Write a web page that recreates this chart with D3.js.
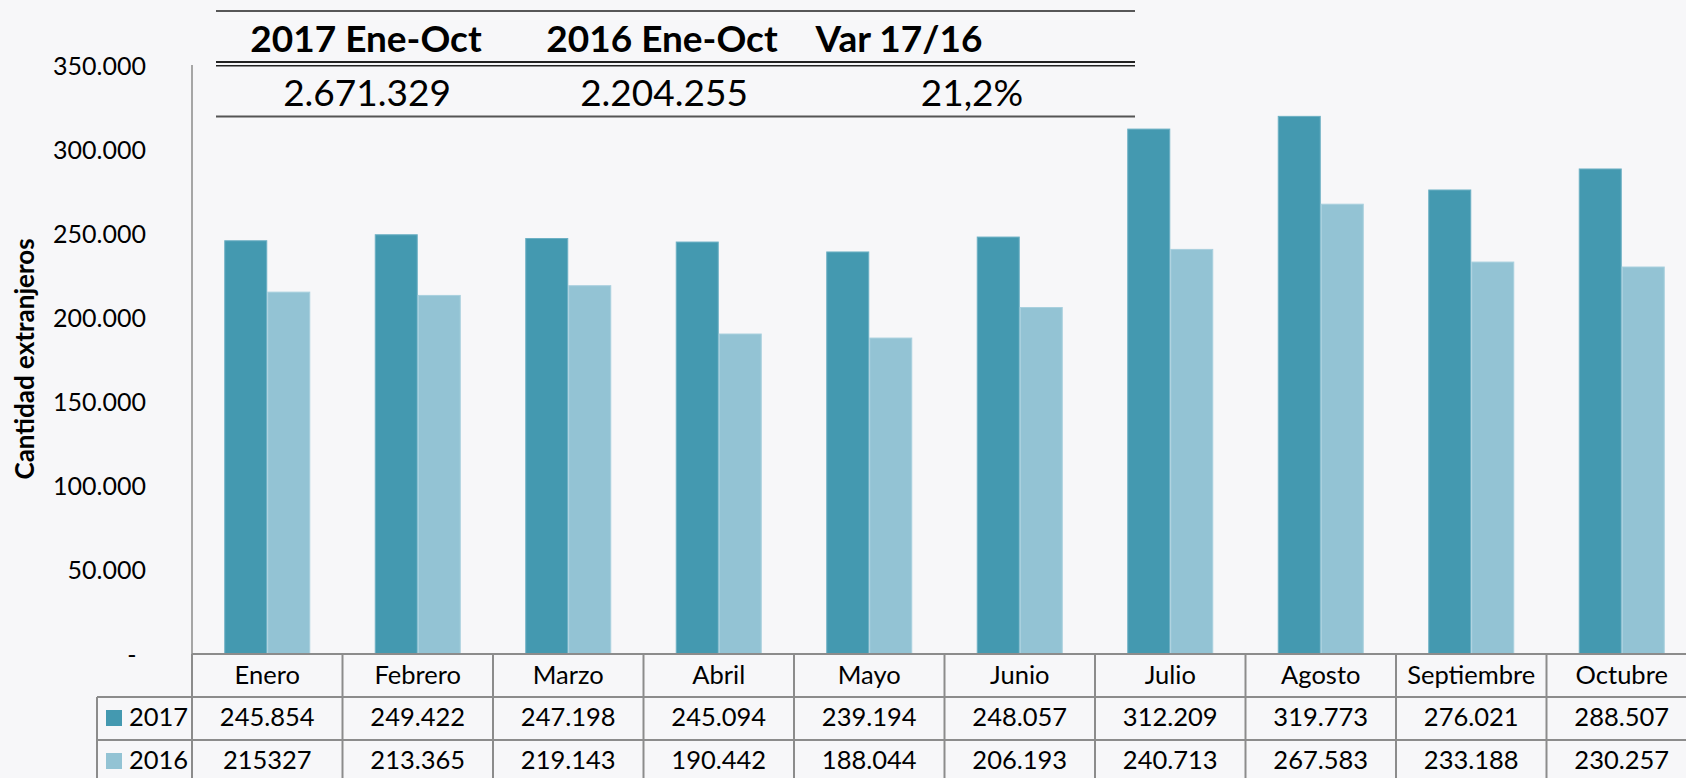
<!DOCTYPE html>
<html>
<head>
<meta charset="utf-8">
<script src="https://cdn.jsdelivr.net/npm/d3@7"></script>
<style>
  html, body { margin: 0; padding: 0; background: #f7f7f9; }
  svg { display: block; }
  text { font-family: "Lato", "Open Sans", sans-serif; fill: #000; }
</style>
</head>
<body>
<svg id="chart" width="1686" height="778"></svg>
<script>
// ---- data ----
const months = ["Enero", "Febrero", "Marzo", "Abril", "Mayo", "Junio", "Julio", "Agosto", "Septiembre", "Octubre"];
const seriesNames = ["2017", "2016"];
const values2017 = [245854, 249422, 247198, 245094, 239194, 248057, 312209, 319773, 276021, 288507];
const values2016 = [215327, 213365, 219143, 190442, 188044, 206193, 240713, 267583, 233188, 230257];
const labels2017 = ["245.854", "249.422", "247.198", "245.094", "239.194", "248.057", "312.209", "319.773", "276.021", "288.507"];
const labels2016 = ["215327", "213.365", "219.143", "190.442", "188.044", "206.193", "240.713", "267.583", "233.188", "230.257"];
const yTicks = [0, 50000, 100000, 150000, 200000, 250000, 300000, 350000];
const yTickLabels = ["-", "50.000", "100.000", "150.000", "200.000", "250.000", "300.000", "350.000"];
const summaryHeaders = ["2017 Ene-Oct", "2016 Ene-Oct", "Var 17/16"];
const summaryValues = ["2.671.329", "2.204.255", "21,2%"];
const yTitle = "Cantidad extranjeros";

// ---- layout ----
const colors = { "2017": "#4499b0", "2016": "#93c3d4" };
const edges = { "2017": "#6cb0c4", "2016": "#a9d0de" };
const plotLeft = 192, colW = 150.5, plotTop = 65, plotBottom = 654;
const svg = d3.select("#chart");

const x = d3.scaleBand().domain(months).range([plotLeft, plotLeft + colW * months.length]).padding(0);
const xSub = d3.scaleBand().domain(seriesNames).range([32.25, 118.25]).padding(0);
const y = d3.scaleLinear().domain([0, 350000]).range([plotBottom, plotTop]);

// y axis line
svg.append("line").attr("x1", plotLeft).attr("x2", plotLeft)
  .attr("y1", y(350000)).attr("y2", plotBottom)
  .attr("stroke", "#a6a6a6").attr("stroke-width", 2);

// y tick labels
const yAxis = d3.axisLeft(y).tickValues(yTicks).tickSize(0).tickPadding(0)
  .tickFormat((d, i) => yTickLabels[i]);
const yg = svg.append("g").attr("transform", `translate(146,0)`).call(yAxis);
yg.select(".domain").remove();
yg.selectAll("text").attr("font-size", 25).attr("font-family", "Lato").attr("fill", "#000")
  .attr("dy", "0.36em");
yg.selectAll(".tick").filter(d => d === 0).select("text")
  .attr("text-anchor", "middle").attr("x", -14);

// y title
svg.append("text").attr("transform", `translate(34,359) rotate(-90)`)
  .attr("text-anchor", "middle").attr("font-weight", "bold").attr("font-size", 26)
  .text(yTitle);

// bars
const rows = months.map((m, i) => ({ month: m, "2017": values2017[i], "2016": values2016[i] }));
const groups = svg.append("g").selectAll("g").data(rows).join("g")
  .attr("transform", d => `translate(${x(d.month)},0)`);
groups.selectAll("rect").data(d => seriesNames.map(s => ({ s, v: d[s] }))).join("rect")
  .attr("x", d => xSub(d.s) + 0.5).attr("width", xSub.bandwidth() - 1)
  .attr("y", d => y(d.v) + 0.5).attr("height", d => plotBottom - y(d.v))
  .attr("fill", d => colors[d.s])
  .attr("stroke", d => edges[d.s]).attr("stroke-width", 1);

// data table
const tbl = svg.append("g");
const gridColor = "#8c8c8c";
const rowTops = [654, 697, 740, 783];
const tableRight = plotLeft + colW * months.length;
tbl.append("line").attr("x1", plotLeft).attr("x2", tableRight).attr("y1", rowTops[0]).attr("y2", rowTops[0])
  .attr("stroke", gridColor).attr("stroke-width", 2);
[1, 2, 3].forEach(r => {
  tbl.append("line").attr("x1", 97).attr("x2", tableRight).attr("y1", rowTops[r]).attr("y2", rowTops[r])
    .attr("stroke", gridColor).attr("stroke-width", 2);
});
d3.range(months.length + 1).forEach(i => {
  const xx = plotLeft + colW * i;
  tbl.append("line").attr("x1", xx).attr("x2", xx).attr("y1", rowTops[0]).attr("y2", 778)
    .attr("stroke", gridColor).attr("stroke-width", 2);
});
tbl.append("line").attr("x1", 97).attr("x2", 97).attr("y1", rowTops[1]).attr("y2", 778)
  .attr("stroke", gridColor).attr("stroke-width", 2);

// month labels
tbl.selectAll("text.month").data(months).join("text").attr("class", "month")
  .attr("x", d => x(d) + x.bandwidth() / 2).attr("y", 684)
  .attr("text-anchor", "middle").attr("font-size", 25.5).text(d => d);
// values
const rowLabels = [labels2017, labels2016];
const rowBase = [726, 769];
rowLabels.forEach((labs, r) => {
  tbl.selectAll(`text.v${r}`).data(labs).join("text").attr("class", `v${r}`)
    .attr("x", (d, i) => x(months[i]) + x.bandwidth() / 2).attr("y", rowBase[r])
    .attr("text-anchor", "middle").attr("font-size", 25.5).text(d => d);
  tbl.append("rect").attr("x", 106).attr("y", rowBase[r] - 16).attr("width", 16).attr("height", 16)
    .attr("fill", colors[seriesNames[r]]);
  tbl.append("text").attr("x", 129).attr("y", rowBase[r]).attr("font-size", 25.5).text(seriesNames[r]);
});

// summary table at top
const sum = svg.append("g");
const sLeft = 216, sRight = 1135;
sum.append("line").attr("x1", sLeft).attr("x2", sRight).attr("y1", 11).attr("y2", 11)
  .attr("stroke", "#222").attr("stroke-width", 1.5);
sum.append("line").attr("x1", sLeft).attr("x2", sRight).attr("y1", 62).attr("y2", 62)
  .attr("stroke", "#222").attr("stroke-width", 1.8);
sum.append("line").attr("x1", sLeft).attr("x2", sRight).attr("y1", 65.8).attr("y2", 65.8)
  .attr("stroke", "#222").attr("stroke-width", 1.5);
sum.append("line").attr("x1", sLeft).attr("x2", sRight).attr("y1", 116.5).attr("y2", 116.5)
  .attr("stroke", "#555").attr("stroke-width", 2.2);
const headerX = [366, 662, 899];
const valueX = [367, 664, 972];
sum.selectAll("text.h").data(summaryHeaders).join("text").attr("class", "h")
  .attr("x", (d, i) => headerX[i]).attr("y", 52).attr("text-anchor", "middle")
  .attr("font-weight", "bold").attr("font-size", 37).text(d => d);
sum.selectAll("text.sv").data(summaryValues).join("text").attr("class", "sv")
  .attr("x", (d, i) => valueX[i]).attr("y", 106).attr("text-anchor", "middle")
  .attr("font-size", 37).text(d => d);
</script>
</body>
</html>
